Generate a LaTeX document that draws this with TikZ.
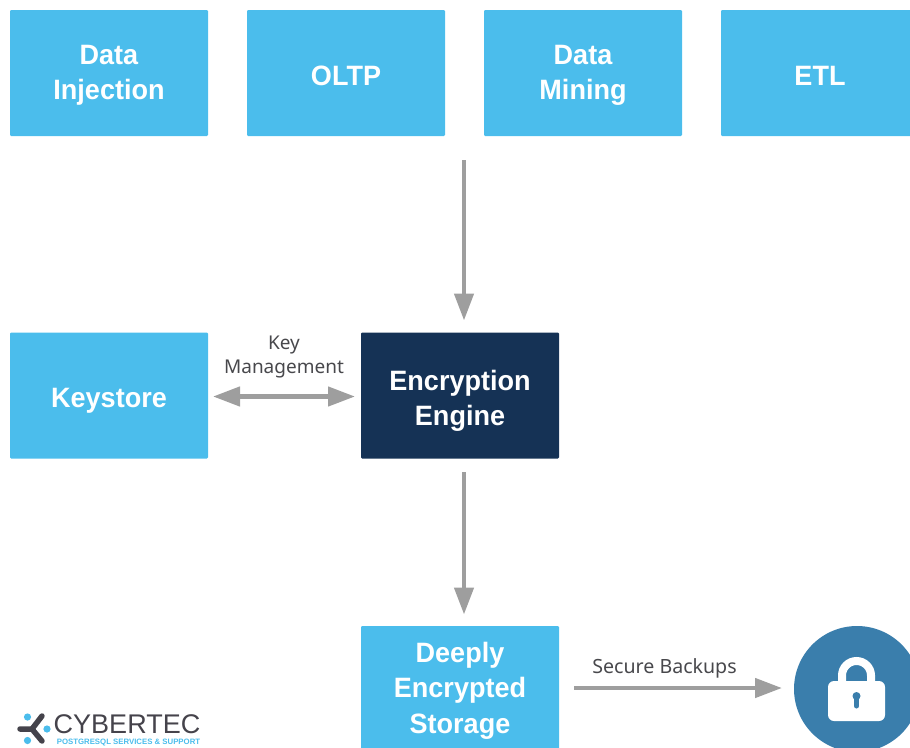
\documentclass[tikz,border=0pt]{standalone}
\usepackage{fontspec}
\setmainfont{Liberation Sans}
\newfontfamily\boxfont[FakeStretch=0.965]{Liberation Sans}
\newfontfamily\labelfont{Noto Sans}
\usetikzlibrary{arrows.meta,calc}
\definecolor{skyb}{HTML}{4BBDEC}
\definecolor{navyb}{HTML}{153255}
\definecolor{arrowg}{HTML}{9E9E9E}
\definecolor{txtg}{HTML}{48484C}
\definecolor{lockb}{HTML}{3A7EAC}
\definecolor{logod}{HTML}{45434B}
\newcommand{\boxtext}[2]{\raisebox{-#1pt}[0pt][0pt]{\begin{tabular}{@{}c@{}}#2\end{tabular}}}
\tikzset{
 box/.style={fill=skyb,rounded corners=1.2pt,minimum width=198pt,minimum height=126pt,inner sep=0pt,
   text=white,align=center,font=\boxfont\fontsize{28}{35.5}\selectfont\bfseries,anchor=center},
 darkbox/.style={box,fill=navyb},
 conn/.style={draw=arrowg,line width=4.5pt,-{Triangle[length=27pt,width=19pt]}},
 biconn/.style={draw=arrowg,line width=4.5pt,{Triangle[length=27pt,width=19pt]}-{Triangle[length=27pt,width=19pt]}},
 lab/.style={text=txtg,font=\labelfont\fontsize{19}{24}\selectfont,align=center,inner sep=0pt},
}
\begin{document}
\begin{tikzpicture}[x=1pt,y=-1pt]
\useasboundingbox (0,0) rectangle (910,747);
\begin{scope}
\clip (0,0) rectangle (910,747);
\node[box] (inj) at (109,73) {\boxtext{8}{Data\\Injection}};
\node[box] (oltp) at (346,73) {\boxtext{12}{OLTP}};
\node[box] (mine) at (583,73) {\boxtext{8}{Data\\Mining}};
\node[box] (etl) at (820,73) {\boxtext{12}{ETL}};
\node[box] (keys) at (109,395.5) {\boxtext{11}{Keystore}};
\node[darkbox] (enc) at (460,395.5) {\boxtext{11.5}{Encryption\\Engine}};
\node[box] (stor) at (460,689) {\boxtext{8}{Deeply\\Encrypted\\Storage}};
\node[circle,fill=lockb,minimum size=126pt,inner sep=0pt] (lock) at (857,689) {};
% padlock
\draw[white,line width=8pt] (842,686) -- (842,675.5) arc[start angle=180,end angle=0,radius=14.5pt] -- (871,686);
\fill[white,rounded corners=6pt] (828,681) rectangle (885,721);
\fill[lockb] (856.5,696) circle (4pt);
\draw[lockb,line width=5pt,line cap=round] (856.5,697) -- (856.5,706);
\end{scope}
\coordinate (top) at (464,160);
\coordinate (enctop) at (464,320.5);
\coordinate (encbot) at (464,472);
\coordinate (stortop) at (464,614.5);
\coordinate (keyr) at (213,396.5);
\coordinate (encl) at (355,396.5);
\coordinate (storr) at (574,688);
\coordinate (lockl) at (782,688);
\draw[conn] (top) -- (enctop);
\draw[conn] (encbot) -- (stortop);
\draw[biconn] (keyr) -- (encl);
\draw[conn] (storr) -- (lockl);
\node[lab] (km) at (284,356.5) {Key\\Management};
\node[lab,font=\labelfont\fontsize{19.6}{24}\selectfont] (sb) at (664.5,668) {Secure Backups};
% logo
\draw[logod,line width=5.5pt,line cap=round,line join=round] (20,729) -- (32,729) -- (42,716);
\draw[logod,line width=5.5pt,line cap=round,line join=round] (32,729) -- (42,741);
\fill[skyb] (27.5,717) circle (3.6pt);
\fill[skyb] (47,729) circle (3.6pt);
\fill[skyb] (27.5,740.5) circle (3.6pt);
\node[text=logod,font=\fontsize{27}{28}\selectfont,anchor=center,inner sep=0pt] (cy) at (127,724) {CYBERTEC};
\node[text=skyb,font=\fontsize{7.8}{9}\selectfont\bfseries,anchor=center,inner sep=0pt] (pg) at (128.5,742.5) {POSTGRESQL SERVICES \& SUPPORT};
\end{tikzpicture}
\end{document}
